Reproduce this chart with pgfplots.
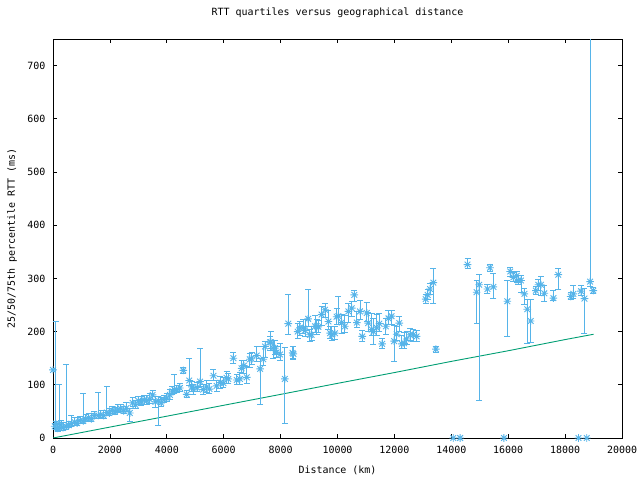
\documentclass[border=0pt]{standalone}
\usepackage{pgfplots}
\pgfplotsset{compat=1.18}
\usepackage{fontspec}
\setmainfont{DejaVu Sans Mono}
\definecolor{gpblue}{RGB}{86,180,233}
\definecolor{gpgreen}{RGB}{0,158,115}
\pgfdeclareplotmark{gpstar}{%
  \pgfpathmoveto{\pgfqpoint{-\pgfplotmarksize}{0pt}}\pgfpathlineto{\pgfqpoint{\pgfplotmarksize}{0pt}}%
  \pgfpathmoveto{\pgfqpoint{0pt}{-\pgfplotmarksize}}\pgfpathlineto{\pgfqpoint{0pt}{\pgfplotmarksize}}%
  \pgfpathmoveto{\pgfqpoint{-0.75\pgfplotmarksize}{-0.75\pgfplotmarksize}}\pgfpathlineto{\pgfqpoint{0.75\pgfplotmarksize}{0.75\pgfplotmarksize}}%
  \pgfpathmoveto{\pgfqpoint{-0.75\pgfplotmarksize}{0.75\pgfplotmarksize}}\pgfpathlineto{\pgfqpoint{0.75\pgfplotmarksize}{-0.75\pgfplotmarksize}}%
  \pgfusepathqstroke}
\pgfplotstableread{
x y ep em
0 128 2 2
60 22 10 5
100 27 193 8
160 18 8 5
210 20 80 5
280 25 8 6
350 19 10 5
460 22 117 6
560 24 8 5
650 27 15 5
760 30 8 6
850 28 10 5
950 33 8 5
1065 32 51 5
1150 36 8 5
1250 38 8 6
1350 36 10 5
1450 42 8 5
1590 42 44 6
1680 44 8 6
1780 42 10 5
1890 48 48 6
1980 47 8 5
2080 52 8 6
2180 50 8 5
2280 54 10 6
2380 55 8 6
2480 51 8 5
2580 56 10 6
2700 47 8 16
2800 66 10 6
2900 62 8 6
3000 70 8 6
3100 68 10 6
3200 72 8 8
3300 70 10 6
3400 73 10 8
3500 81 8 8
3600 68 10 10
3700 70 8 46
3800 66 10 6
3900 72 8 6
4000 75 8 6
4110 81 10 8
4200 88 8 6
4265 91 28 8
4350 91 8 6
4460 94 8 6
4580 127 6 6
4700 82 8 6
4790 108 42 10
4880 96 10 8
4930 92 8 10
5060 95 10 8
5170 106 63 10
5280 91 10 10
5400 96 12 10
5500 92 10 8
5640 117 12 8
5750 98 10 10
5880 104 12 10
5990 103 10 8
6100 113 12 10
6160 111 10 8
6340 150 10 10
6460 109 10 8
6570 111 12 10
6630 131 15 10
6710 136 10 15
6810 114 20 12
6920 148 10 15
6980 149 12 10
7160 155 18 12
7280 130 20 66
7390 148 25 12
7450 172 10 20
7630 180 10 15
7660 180 20 12
7740 169 15 20
7800 169 15 12
7860 161 12 10
7980 157 20 12
8150 111 59 84
8270 215 54 20
8420 160 12 10
8450 158 15 10
8600 200 15 12
8680 207 12 15
8800 207 15 10
8860 202 20 12
8970 224 55 15
9030 194 10 12
9090 194 15 10
9210 210 20 12
9270 210 12 15
9330 209 12 10
9440 232 15 20
9560 241 12 15
9680 219 20 15
9740 197 12 10
9800 194 15 10
9910 197 12 12
9970 228 15 15
10030 229 37 15
10150 217 15 20
10260 210 20 12
10380 238 15 20
10500 244 12 15
10590 269 8 12
10680 217 20 10
10790 238 20 15
10870 191 12 10
11030 235 20 15
11080 216 20 15
11200 204 30 12
11260 200 25 25
11380 207 25 15
11470 215 20 15
11570 177 10 8
11700 210 15 15
11790 225 15 12
11900 229 10 15
11990 182 30 38
12080 195 15 12
12170 216 12 15
12260 177 15 8
12340 178 20 10
12430 186 15 10
12550 194 12 10
12660 194 10 12
12780 191 12 10
13100 261 8 8
13170 269 10 8
13250 280 10 10
13370 292 26 40
13460 167 6 6
14070 0 0 0
14310 0 0 0
14570 326 12 8
14890 274 23 58
14980 288 20 218
15270 280 8 8
15360 320 6 6
15480 284 25 21
15850 0 0 0
15970 257 40 66
16070 313 8 10
16180 302 10 8
16300 305 8 12
16360 296 10 8
16450 296 10 22
16570 271 10 20
16670 242 18 65
16790 220 40 40
16970 277 8 8
17060 288 10 10
17150 288 15 20
17270 272 15 15
17590 263 15 5
17760 307 11 28
18200 266 8 5
18290 271 15 8
18470 0 0 0
18560 276 10 8
18680 262 20 65
18760 0 0 0
18880 294 520 10
18990 277 6 6
}\rtt
\pgfplotstableread{
x y
0 0
2000 20.5
4000 41
6000 61.5
8000 82
10000 102.7
12000 123
14000 144
16000 164
18000 185
19000 195
}\fiber
\begin{document}
\begin{tikzpicture}
\path[use as bounding box] (-53bp,-42bp) rectangle (587bp,438bp);
\begin{axis}[
  at={(0,0)}, anchor=south west,
  scale only axis, width=569bp, height=399bp,
  xmin=0, xmax=20000, ymin=0, ymax=750,
  xtick={0,2000,...,20000}, ytick={0,100,...,700},
  scaled x ticks=false,
  /pgf/number format/set thousands separator={},
  /pgf/number format/assume math mode=true,
  tick align=inside, major tick length=4bp, minor tick num=0,
  axis line style={line width=0.8bp}, tick style={line width=0.8bp, black},
  font=\fontsize{10}{12}\selectfont,
  ticklabel style={font=\fontsize{10}{12}\selectfont},
  xticklabel style={yshift=-5bp},
  yticklabel style={xshift=-4bp},
  title={RTT quartiles versus geographical distance},
  title style={at={(axis description cs:0.5,1.050)}, anchor=center},
  xlabel={Distance (km)},
  xlabel style={at={(axis description cs:0.5,-0.080)}, anchor=center},
  ylabel={25/50/75th percentile RTT (ms)},
  ylabel style={at={(axis description cs:-0.072,0.5)}, anchor=center},
  clip mode=individual,
]
\addplot[gpgreen, line width=0.9bp] table[x=x,y=y] {\fiber};
\addplot[gpblue, only marks, mark=gpstar, mark size=3.8bp, line width=0.9bp,
  error bars/.cd, y dir=both, y explicit,
  error mark=-,
  error mark options={gpblue, rotate=90, mark size=3bp, line width=0.9bp},
  error bar style={gpblue, line width=0.9bp}]
  table[x=x, y=y, y error plus=ep, y error minus=em] {\rtt};
\end{axis}
\end{tikzpicture}
\end{document}
